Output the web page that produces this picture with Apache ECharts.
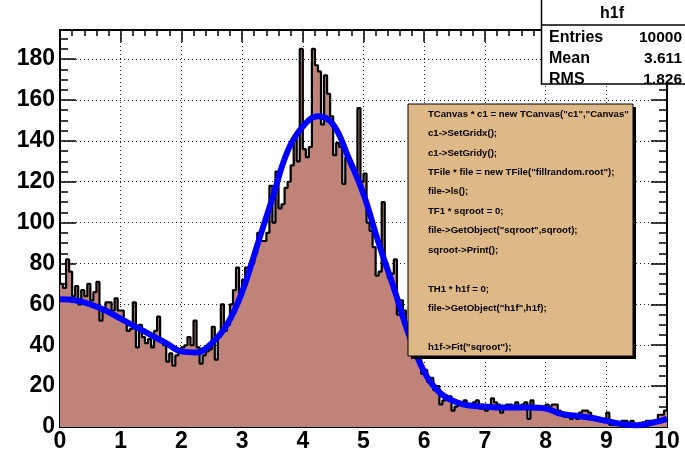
<!DOCTYPE html>
<html><head><meta charset="utf-8">
<script src="https://cdn.jsdelivr.net/npm/echarts@6/dist/echarts.min.js"></script>
<style>html,body{margin:0;padding:0;background:#fff}#c{width:685px;height:456px}</style>
</head><body><div id="c"></div>
<script>
// ---- data ----
const xMin = 0, xMax = 10, nBins = 200;
const binValues = [
  70,68,82,76,64,69,60,67,64,70, 62,66,71,52,58,61,61,57,63,57,
  57,52,47,48,61,39,50,44,41,43, 39,47,54,43,40,32,36,30,35,37,
  39,40,44,40,52,39,31,35,37,38, 49,33,44,60,47,50,60,67,78,64,
  72,78,77,80,85,95,91,91,95,118, 100,125,107,109,117,120,128,141,130,185,
  136,132,137,185,177,174,148,172,163,152, 133,139,137,119,132,130,127,125,156,120,
  124,100,96,88,74,76,110,78,73,75, 82,55,62,57,50,45,40,38,33,26,
  28,22,24,18,20,11,13,15,15,8, 10,12,12,13,11,10,12,13,9,9,
  8,10,14,12,11,7,9,11,11,9, 12,10,11,12,4,13,9,9,10,9,
  11,10,11,11,8,6,5,5,4,5, 4,7,8,8,7,5,4,3,4,4,
  7,1,1,1,2,3,3,2,3,1, 1,2,1,3,3,3,2,6,6,8
];
const fitX = [0,0.25,0.5,0.75,1,1.25,1.5,1.75,2,2.25,2.5,2.75,3,3.25,3.5,3.75,4,4.25,4.5,4.75,5,5.25,5.5,5.75,6,6.25,6.5,6.75,7,7.25,7.5,7.75,8,8.25,8.5,8.75,9,9.25,9.5,9.75,10];
const fitY = [62.5,62,60,57,53,49,45,41,37,36.5,41,50,66,89,112,135,147,152,148,132,114,90,68,45,27,17,12.5,10.5,10,9.5,9.5,9.5,9,6.5,5.5,4.5,3,1.5,0.8,2,4];
const yMax = 194.25;
const statsTitle = 'h1f';
const statsNames = ['Entries','Mean','RMS'];
const statsValues = ['10000','3.611','1.826'];
const codeLines = [
  'TCanvas * c1 = new TCanvas("c1","Canvas");',
  'c1->SetGridx();',
  'c1->SetGridy();',
  'TFile * file = new TFile("fillrandom.root");',
  'file->ls();',
  'TF1 * sqroot = 0;',
  'file->GetObject("sqroot",sqroot);',
  'sqroot->Print();',
  '',
  'TH1 * h1f = 0;',
  'file->GetObject("h1f",h1f);',
  '',
  'h1f->Fit("sqroot");'
];

// ---- build ----
const bw = (xMax - xMin) / nBins;
const histData = binValues.map((v, i) => [xMin + i * bw, v]);
histData.push([xMax, binValues[nBins - 1]]);
const fitData = fitX.map((x, i) => [x, fitY[i]]);

const FONT = '"Liberation Sans", Helvetica, Arial, sans-serif';
const black = '#000';

function xAx(pos, labels) {
  return {
    type: 'value', position: pos, min: xMin, max: xMax, interval: 1,
    axisLine: { show: true, onZero: false, lineStyle: { color: black, width: 2 } },
    axisTick: { show: true, inside: true, length: 12, lineStyle: { color: black, width: 1.5 } },
    minorTick: { show: true, splitNumber: 5, length: 6, lineStyle: { color: black, width: 1.5 } },
    splitLine: { show: labels, lineStyle: { type: [1, 3], color: '#222', width: 1 } },
    axisLabel: { show: labels, color: black, fontFamily: FONT, fontWeight: 'bold', fontSize: 23, margin: 3 }
  };
}
function yAx(pos, interval, len, labels, grid) {
  return {
    type: 'value', position: pos, min: 0, max: yMax, interval: interval,
    axisLine: { show: true, onZero: false, lineStyle: { color: black, width: 2 } },
    axisTick: { show: true, inside: true, length: len, lineStyle: { color: black, width: 1.5 } },
    splitLine: { show: grid, lineStyle: { type: [1, 3], color: '#222', width: 1 } },
    axisLabel: { show: labels, showMaxLabel: false, color: black, fontFamily: FONT, fontWeight: 'bold', fontSize: 23, margin: 5 }
  };
}

const Z = 100;
const graphic = [];
// text box (shadow + body)
graphic.push({ type: 'rect', z: Z, shape: { x: 411, y: 107, width: 225, height: 252 }, style: { fill: black } });
graphic.push({ type: 'rect', z: Z, shape: { x: 408, y: 104, width: 225, height: 252 }, style: { fill: '#deb887', stroke: black, lineWidth: 1 } });
codeLines.forEach((t, i) => {
  if (!t) return;
  graphic.push({ type: 'text', z: Z + 1, x: 428, y: 114 + i * 19.45,
    style: { text: t, font: 'bold 9.6px ' + FONT, fill: black, verticalAlign: 'middle', width: 204, overflow: 'truncate', ellipsis: '' } });
});
// stats box
graphic.push({ type: 'rect', z: Z, shape: { x: 541.5, y: -2, width: 150, height: 86 }, style: { fill: '#fff', stroke: black, lineWidth: 1.5 } });
graphic.push({ type: 'line', z: Z, shape: { x1: 541, y1: 25, x2: 685, y2: 25 }, style: { stroke: black, lineWidth: 1.5 } });
graphic.push({ type: 'text', z: Z + 1, x: 612, y: 14, style: { text: statsTitle, font: 'bold 16px ' + FONT, fill: black, align: 'center', verticalAlign: 'middle' } });
statsNames.forEach((n, i) => {
  const y = 38 + i * 21;
  graphic.push({ type: 'text', z: Z + 1, x: 549, y: y, style: { text: n, font: 'bold 16px ' + FONT, fill: black, verticalAlign: 'middle' } });
  graphic.push({ type: 'text', z: Z + 1, x: 682, y: y, style: { text: statsValues[i], font: 'bold 15.5px ' + FONT, fill: black, align: 'right', verticalAlign: 'middle' } });
});

const chart = echarts.init(document.getElementById('c'), null, { renderer: 'canvas' });
chart.setOption({
  animation: false,
  backgroundColor: '#fff',
  grid: { left: 60, right: 18, top: 30, bottom: 29, containLabel: false },
  xAxis: [xAx('bottom', true), xAx('top', false)],
  yAxis: [yAx('left', 20, 16, true, true), yAx('left', 5, 8, false, false), yAx('right', 20, 16, false, false), yAx('right', 5, 8, false, false)],
  series: [
    { type: 'line', name: 'h1f', data: histData, step: 'end', symbol: 'none', xAxisIndex: 0, yAxisIndex: 0,
      lineStyle: { color: black, width: 2.2 }, areaStyle: { color: '#c0837a', opacity: 1, origin: 'start' }, z: 3 },
    { type: 'line', name: 'sqroot', data: fitData, smooth: 0.4, symbol: 'none', xAxisIndex: 0, yAxisIndex: 0,
      lineStyle: { color: '#0000ff', width: 6 }, z: 4 }
  ],
  graphic: { elements: graphic }
});
</script></body></html>
